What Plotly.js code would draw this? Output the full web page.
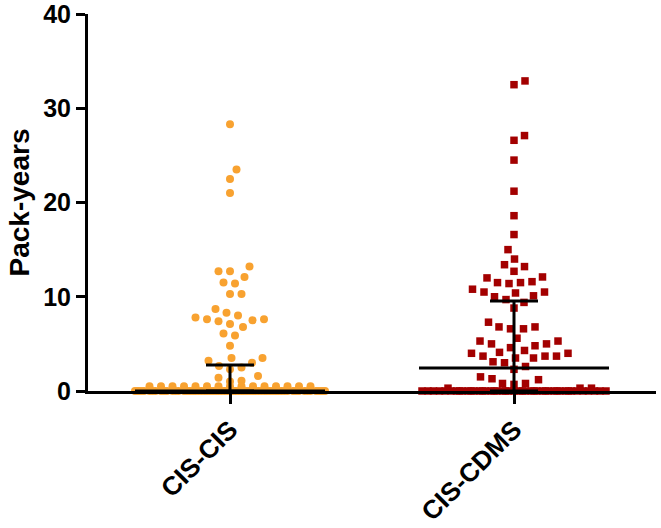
<!DOCTYPE html>
<html>
<head>
<meta charset="utf-8">
<script src="https://cdn.plot.ly/plotly-3.0.1.min.js"></script>
<style>
  html, body { margin: 0; padding: 0; background: #ffffff; }
  #chart { width: 661px; height: 528px; }
</style>
</head>
<body>
<div id="chart"></div>
<script>
// ---------------- data ----------------
const categories = ["CIS-CIS", "CIS-CDMS"];

const cisCisPackYears = [
  28.3, 23.5, 22.5, 21.0, 13.2, 12.7, 12.7, 12.1, 11.5, 11.4, 10.3, 10.3,
  8.7, 8.3, 8.0, 7.8, 7.6, 7.6, 7.5, 7.4, 7.1, 6.8, 6.1, 5.9, 4.8,
  3.5, 3.5, 3.2, 3.0, 2.65, 2.5, 2.3, 1.6, 1.4, 1.1, 1.0,
  0.5, 0.5, 0.5, 0.5, 0.5, 0.5, 0.5, 0.5, 0.5, 0.5, 0.5, 0.5, 0.5, 0.5, 0.5,
  0, 0, 0, 0, 0, 0, 0, 0, 0, 0, 0, 0, 0, 0, 0, 0, 0, 0, 0, 0,
  0, 0, 0, 0, 0, 0, 0, 0, 0, 0, 0, 0, 0, 0, 0, 0, 0, 0, 0, 0,
  0, 0, 0, 0, 0, 0, 0, 0, 0, 0, 0, 0, 0, 0, 0, 0, 0, 0, 0, 0
];

const cisCdmsPackYears = [
  32.9, 32.5, 27.1, 26.6, 24.5, 21.2, 18.6, 16.6, 15.0, 14.0, 13.4, 13.2,
  12.7, 12.1, 12.0, 11.6, 11.5, 11.5, 11.4, 10.8, 10.5, 10.5, 10.4, 10.1, 10.0, 9.7,
  9.4, 8.8, 7.3, 6.8, 6.8, 6.6, 6.6, 5.6, 5.3, 5.3, 5.0, 5.0, 4.8, 4.6, 4.3,
  4.1, 4.0, 4.0, 3.7, 3.7, 3.7, 3.5, 3.5, 3.1, 3.0, 2.6, 2.3, 1.5, 1.3, 0.8,
  1.2, 0.8, 0.7, 0.3, 0.3, 0.3,
  0, 0, 0, 0, 0, 0, 0, 0, 0, 0, 0, 0, 0, 0, 0, 0, 0, 0, 0, 0,
  0, 0, 0, 0, 0, 0, 0, 0, 0, 0, 0, 0, 0, 0, 0, 0, 0, 0, 0, 0,
  0, 0, 0
];

// summary bars: median with interquartile range
const medianPackYears = [0, 2.45];
const q1PackYears = [0, 0];
const q3PackYears = [2.75, 9.55];

// ---------------- layout constants ----------------
const W = 661, H = 528;
const margin = { l: 88, r: 5, t: 14, b: 137, pad: 0 };
const xRange = [-0.5, 1.5];
const yRange = [0, 40];
const plotW = W - margin.l - margin.r;
const plotH = H - margin.t - margin.b;
const xPxPerUnit = plotW / (xRange[1] - xRange[0]);
const yPxPerUnit = plotH / (yRange[1] - yRange[0]);

// beeswarm: horizontal offsets computed from values (pixel space)
function swarmOffsets(values, D, rowTol, half1, half2, stepPx) {
  const order = values.map((v, i) => i).sort((a, b) => values[a] - values[b]);
  const placed = [];
  const out = new Array(values.length);
  const mk = (half) => {
    const n = Math.floor(half / stepPx);
    const c = [0];
    for (let k = 1; k <= n; k++) { c.push(k * stepPx, -k * stepPx); }
    return c;
  };
  const c1 = mk(half1), c2 = mk(half2);
  for (const i of order) {
    const y = values[i] * yPxPerUnit;
    const near = placed.filter(p => Math.abs(p.y - y) < D);
    let chosen = null;
    // stage 1: no overlap at all, compact width
    for (const c of c1) {
      let ok = true;
      for (const p of near) { if (Math.hypot(p.x - c, p.y - y) < D) { ok = false; break; } }
      if (ok) { chosen = c; break; }
    }
    // stage 2: only points in the same row must keep full spacing
    if (chosen === null) {
      for (const c of c2) {
        let ok = true;
        for (const p of near) {
          if (Math.abs(p.y - y) < rowTol && Math.abs(p.x - c) < D) { ok = false; break; }
        }
        if (ok) { chosen = c; break; }
      }
    }
    // stage 3: least-crowded slot
    if (chosen === null) {
      let bestScore = -1;
      for (const c of c2) {
        let md = Infinity;
        for (const p of near) { const d = Math.hypot(p.x - c, p.y - y); if (d < md) md = d; }
        const score = Math.floor(md * 2) / 2;
        if (score > bestScore) { bestScore = score; chosen = c; }
      }
    }
    placed.push({ x: chosen, y: y });
    out[i] = chosen / xPxPerUnit;
  }
  return out;
}

const groups = [cisCisPackYears, cisCdmsPackYears];
const colors = ["#F8A230", "#A30000"];
const symbols = ["circle", "square"];
const sizes = [8, 7.5];

const traces = [];
groups.forEach((vals, gi) => {
  const offs = swarmOffsets(vals, 11.4, 4, 60, 95, 0.5);
  traces.push({
    type: "scatter",
    mode: "markers",
    x: offs.map(o => gi + o),
    y: vals,
    marker: { color: colors[gi], symbol: symbols[gi], size: sizes[gi], line: { width: 0 } },
    cliponaxis: false,
    hoverinfo: "skip",
    showlegend: false
  });
});

// median + IQR bars
const medHalf = 95 / xPxPerUnit;
const capHalf = 24 / xPxPerUnit;
const lx = [], ly = [];
categories.forEach((c, i) => {
  lx.push(i - medHalf, i + medHalf, null); ly.push(medianPackYears[i], medianPackYears[i], null);
  lx.push(i, i, null); ly.push(q1PackYears[i], q3PackYears[i], null);
  lx.push(i - capHalf, i + capHalf, null); ly.push(q1PackYears[i], q1PackYears[i], null);
  lx.push(i - capHalf, i + capHalf, null); ly.push(q3PackYears[i], q3PackYears[i], null);
});
traces.push({
  type: "scatter", mode: "lines", x: lx, y: ly,
  line: { color: "#000000", width: 3 },
  cliponaxis: false, hoverinfo: "skip", showlegend: false
});

const fontFam = "Arial, 'Liberation Sans', Helvetica, sans-serif";
const layout = {
  width: W, height: H,
  margin: margin,
  paper_bgcolor: "#ffffff",
  plot_bgcolor: "#ffffff",
  font: { family: fontFam, color: "#000000" },
  showlegend: false,
  xaxis: {
    range: xRange,
    tickmode: "array",
    tickvals: categories.map((c, i) => i),
    ticktext: categories,
    tickangle: -45,
    tickfont: { family: fontFam, size: 26, weight: 700, color: "#000000" },
    showline: true, linecolor: "#000000", linewidth: 3,
    ticks: "outside", ticklen: 10, tickwidth: 3, tickcolor: "#000000",
    showgrid: false, zeroline: false, fixedrange: true,
    automargin: false, ticklabeloverflow: "allow"
  },
  yaxis: {
    range: yRange,
    tickmode: "linear", tick0: 0, dtick: 10,
    tickfont: { family: fontFam, size: 25, weight: 700, color: "#000000" },
    showline: true, linecolor: "#000000", linewidth: 3,
    ticks: "outside", ticklen: 9, tickwidth: 3, tickcolor: "#000000",
    showgrid: false, zeroline: false, fixedrange: true,
    automargin: false, ticklabeloverflow: "allow",
    title: { text: "Pack-years", font: { family: fontFam, size: 28, weight: 700, color: "#000000" }, standoff: 6 }
  }
};

Plotly.newPlot("chart", traces, layout, { displayModeBar: false, staticPlot: true });
</script>
</body>
</html>
